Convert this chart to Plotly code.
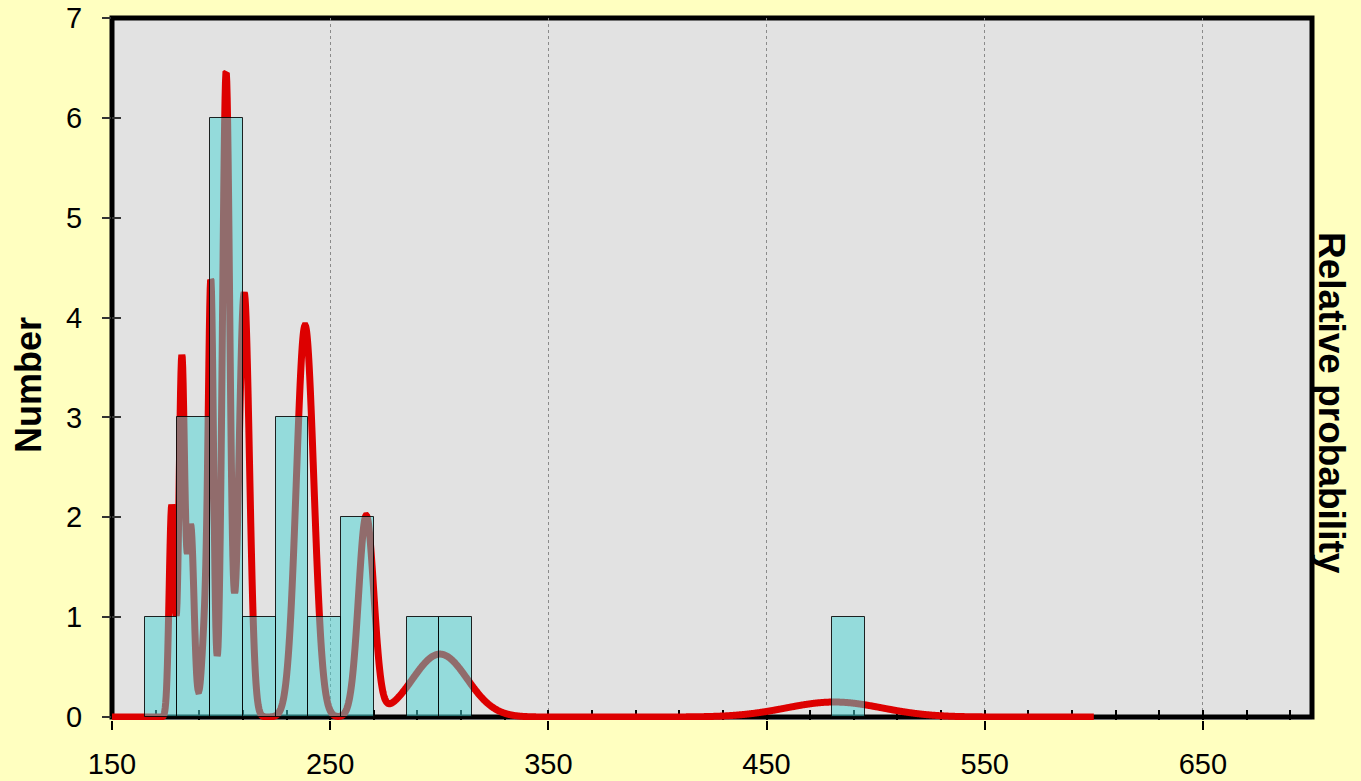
import numpy as np
import plotly.graph_objects as go

# ---- Histogram data (bin left edges, counts) ----
bin_left = [165, 180, 195, 210, 225, 240, 255, 270, 285, 300, 480]
bin_count = [1, 3, 6, 1, 3, 1, 2, 0, 1, 1, 1]
bin_width = 15

# ---- Relative probability curve: component ages, sigmas and heights ----
peak_ages = [177.4, 182.0, 186.1, 193.0, 195.4, 202.3, 210.6, 238.5, 266.5, 300.3, 481.0]
peak_sigmas = [1.2, 1.3, 1.5, 1.7, 1.2, 1.69, 2.4, 4.0, 3.5, 12.5, 22.0]
peak_heights = [2.12, 3.58, 1.9, 1.0, 4.0, 6.45, 4.25, 3.92, 2.0, 0.63, 0.15]
curve_start, curve_end = 150, 600

x_ticks = [150, 250, 350, 450, 550, 650]
y_ticks = [0, 1, 2, 3, 4, 5, 6, 7]

xs = np.arange(curve_start, curve_end + 0.001, 0.2)
ys = np.zeros_like(xs)
for m, s, a in zip(peak_ages, peak_sigmas, peak_heights):
    ys += a * np.exp(-((xs - m) ** 2) / (2 * s * s))

bx = [l + bin_width / 2 for l, c in zip(bin_left, bin_count) if c > 0]
by = [c for c in bin_count if c > 0]

FONT = "Liberation Sans, Arial, sans-serif"
XR = [150, 700]
YR = [-0.03, 7]

fig = go.Figure()
fig.add_trace(go.Scatter(x=xs, y=ys, mode="lines",
                         line=dict(color="#DD0000", width=7, simplify=False),
                         xaxis="x", yaxis="y", hoverinfo="skip", showlegend=False))
fig.add_trace(go.Bar(x=bx, y=by, width=bin_width,
                     marker=dict(color="rgba(72,212,212,0.51)",
                                 line=dict(color="rgba(0,0,0,0.85)", width=1)),
                     xaxis="x2", yaxis="y2", hoverinfo="skip", showlegend=False))

fig.update_layout(
    width=1361, height=781, autosize=False,
    paper_bgcolor="#FFFFC0", plot_bgcolor="#E2E2E2",
    margin=dict(l=112, r=49, t=18, b=61, autoexpand=False),
    font=dict(family=FONT, color="black"),
    showlegend=False,
    xaxis=dict(range=XR, tickvals=x_ticks, ticks="outside", ticklen=9, tickwidth=2,
               tickcolor="black", showgrid=True, gridcolor="#8a8a8a", griddash="dot",
               gridwidth=1, showline=False, zeroline=False, automargin=False,
               tickfont=dict(size=29, family=FONT), layer="below traces", anchor="y",
               ticklabelstandoff=9),
    xaxis2=dict(range=XR, overlaying="x", anchor="y", side="bottom", tick0=150, dtick=20,
                ticks="inside", ticklen=10, tickwidth=2, tickcolor="black", automargin=False,
                showticklabels=False, showgrid=False, zeroline=False, showline=False,
                layer="below traces"),
    yaxis=dict(range=YR, tickvals=y_ticks, ticks="outside", ticklen=9, tickwidth=2,
               tickcolor="#333333", showgrid=False, zeroline=False, showline=False,
               automargin=False,
               tickfont=dict(size=29, family=FONT), layer="below traces", anchor="x",
               ticklabelstandoff=14),
    yaxis2=dict(range=YR, overlaying="y", side="left", anchor="x", tickvals=y_ticks,
                ticks="inside", ticklen=9, tickwidth=2, tickcolor="#333333", automargin=False,
                showticklabels=False, showgrid=False, zeroline=False, showline=False,
                layer="below traces"),
    bargap=0,
)

# Frame around plot area (centered on the edges, beneath traces)
fig.add_shape(type="rect", xref="paper", yref="paper", x0=0, x1=1,
              y0=0.03 / 7.03, y1=1, line=dict(color="black", width=5),
              fillcolor="rgba(0,0,0,0)", layer="between")

fig.add_annotation(text="<b>Number</b>", xref="paper", yref="paper",
                   x=(28 - 112) / 1200, y=(720 - 385) / 702, textangle=-90,
                   showarrow=False, xanchor="center", yanchor="middle",
                   font=dict(size=36, family=FONT, color="black"))
fig.add_annotation(text="<b>Relative probability</b>", xref="paper", yref="paper",
                   x=(1332 - 112) / 1200, y=(720 - 403) / 702, textangle=90,
                   showarrow=False, xanchor="center", yanchor="middle",
                   font=dict(size=37, family=FONT, color="black"))

fig.write_html("out.html")
